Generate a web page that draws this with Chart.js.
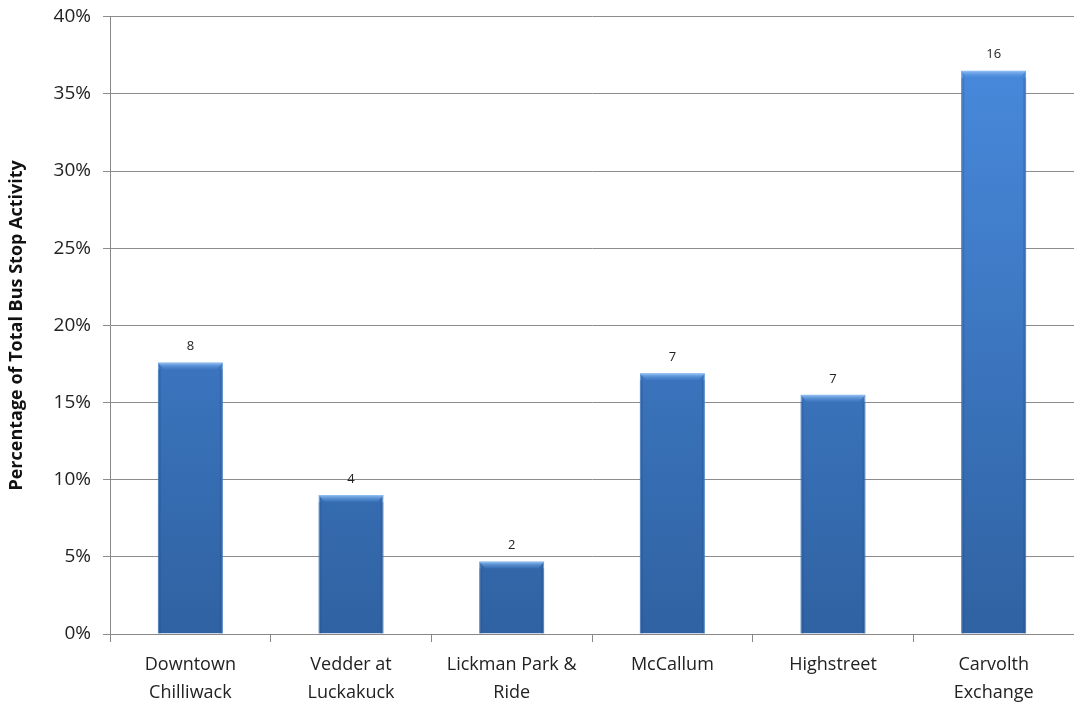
<!DOCTYPE html>
<html lang="en">
<head>
  <meta charset="UTF-8">
  <title>Bus Stop Activity</title>
  <script src="https://cdn.jsdelivr.net/npm/chart.js"></script>
  <style>
    body {
      margin: 0;
      padding: 0;
      background: #fff;
    }
    .chart-container {
      width: 1074px;
      height: 706px;
    }
  </style>
</head>
<body>
  <div class="chart-container">
    <canvas id="stopChart"></canvas>
  </div>

  <script>
    // stops, share of total activity (%), and number of stops in each group
    const stops = [
      ['Downtown', 'Chilliwack'],
      ['Vedder at', 'Luckakuck'],
      ['Lickman Park &', 'Ride'],
      'McCallum',
      'Highstreet',
      ['Carvolth', 'Exchange']
    ];
    const sharePct = [17.6, 9.0, 4.7, 16.9, 15.5, 36.5];
    const stopCounts = [8, 4, 2, 7, 7, 16];

    const fontFamily = "'Open Sans', 'Noto Sans', sans-serif";

    // vertical blue gradient for the bars
    function barFill(context) {
      const chart = context.chart;
      const area = chart.chartArea;
      if (!area) return '#3f7fd0';
      const g = chart.ctx.createLinearGradient(0, area.top, 0, area.bottom);
      g.addColorStop(0, '#4a8ce0');
      g.addColorStop(1, '#2f62a2');
      return g;
    }

    // count labels above each bar
    const countLabels = {
      id: 'countLabels',
      afterDatasetsDraw(chart) {
        const ctx = chart.ctx;
        const meta = chart.getDatasetMeta(0);
        ctx.save();
        ctx.font = '13px ' + fontFamily;
        ctx.fillStyle = '#222';
        ctx.textAlign = 'center';
        ctx.textBaseline = 'middle';
        meta.data.forEach((bar, i) => {
          ctx.fillText(String(stopCounts[i]), bar.x, bar.y - 16);
        });
        ctx.restore();
      }
    };

    // light bevel along the top of each bar
    const barBevel = {
      id: 'barBevel',
      afterDatasetsDraw(chart) {
        const ctx = chart.ctx;
        const meta = chart.getDatasetMeta(0);
        ctx.save();
        meta.data.forEach(bar => {
          const left = bar.x - bar.width / 2;
          const right = bar.x + bar.width / 2;
          const g = ctx.createLinearGradient(0, bar.y, 0, bar.y + 7);
          g.addColorStop(0, 'rgba(150,195,245,0.95)');
          g.addColorStop(1, 'rgba(80,140,220,0.2)');
          ctx.fillStyle = g;
          ctx.beginPath();
          ctx.moveTo(left, bar.y);
          ctx.lineTo(right, bar.y);
          ctx.lineTo(right - 6, bar.y + 7);
          ctx.lineTo(left + 6, bar.y + 7);
          ctx.closePath();
          ctx.fill();
          // darker side edges
          ctx.fillStyle = 'rgba(30,70,130,0.25)';
          ctx.fillRect(left, bar.y + 7, 3, bar.base - bar.y - 7);
          ctx.fillRect(right - 3, bar.y + 7, 3, bar.base - bar.y - 7);
        });
        ctx.restore();
      }
    };

    new Chart(document.getElementById('stopChart'), {
      type: 'bar',
      data: {
        labels: stops,
        datasets: [{
          data: sharePct,
          backgroundColor: barFill,
          borderColor: '#5b93d6',
          borderWidth: 1,
          categoryPercentage: 1,
          barPercentage: 0.405
        }]
      },
      options: {
        responsive: true,
        maintainAspectRatio: false,
        animation: false,
        layout: {
          padding: { top: 0, right: 0, left: 2, bottom: 0 }
        },
        plugins: {
          legend: { display: false },
          tooltip: { enabled: false }
        },
        scales: {
          x: {
            offset: true,
            afterFit(scale) { scale.height = 72; },
            grid: {
              offset: true,
              drawOnChartArea: false,
              color: '#888',
              tickLength: 8
            },
            border: { color: '#888' },
            ticks: {
              color: '#222',
              font: { family: fontFamily, size: 18, lineHeight: 1.55 },
              padding: 9,
              maxRotation: 0
            }
          },
          y: {
            min: 0,
            max: 40,
            ticks: {
              stepSize: 5,
              color: '#222',
              font: { family: fontFamily, size: 19, lineHeight: 0.5 },
              padding: 12,
              callback: v => v + '%'
            },
            grid: {
              color: '#8c8c8c',
              tickLength: 7
            },
            border: { color: '#888' },
            title: {
              display: true,
              text: 'Percentage of Total Bus Stop Activity',
              color: '#111',
              font: { family: fontFamily, size: 18, weight: 'bold' },
              padding: { bottom: 14 }
            }
          }
        }
      },
      plugins: [barBevel, countLabels]
    });
  </script>
</body>
</html>
